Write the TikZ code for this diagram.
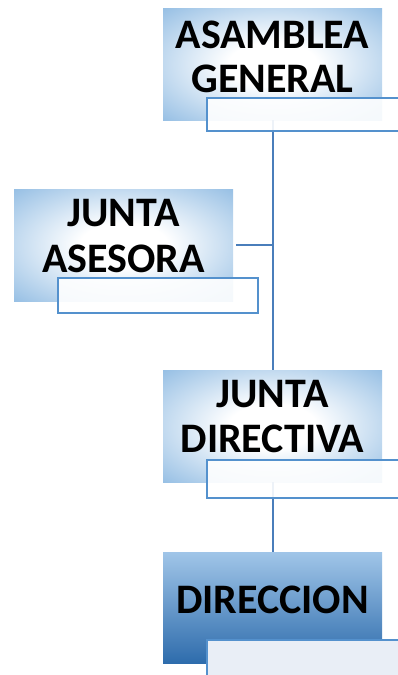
\documentclass[tikz,border=0pt]{standalone}
\usepackage{fontspec}
\setmainfont{Carlito}
\definecolor{boxblue}{RGB}{91,155,213}
\definecolor{linkblue}{RGB}{74,126,187}
\definecolor{edgeblue}{RGB}{84,145,205}
\definecolor{dirtop}{RGB}{160,197,232}
\definecolor{dirbot}{RGB}{46,108,172}
\definecolor{tabfill}{RGB}{233,238,246}
\pgfdeclareradialshading{boxrad}{\pgfpoint{0bp}{0bp}}{color(0bp)=(white); color(10bp)=(white); color(50bp)=(boxblue); color(100bp)=(boxblue)}
\tikzset{
  mainbox/.style={rectangle, draw=none, shading=boxrad, anchor=north west, minimum width=219pt, minimum height=112pt, inner sep=0pt},
  dirbox/.style={rectangle, draw=none, top color=dirtop, bottom color=dirbot, anchor=north west, minimum width=219pt, minimum height=111pt, inner sep=0pt},
  tab/.style={rectangle, draw=edgeblue, line width=2pt, fill=white, fill opacity=0.9, anchor=north west, inner sep=0pt},
  dirtab/.style={rectangle, draw=edgeblue, line width=2pt, fill=tabfill, anchor=north west, inner sep=0pt},
  lbl/.style={anchor=base, font=\fontsize{42}{44}\selectfont\bfseries, inner sep=0pt, text=black},
  link/.style={draw=linkblue, line width=2pt}
}
\begin{document}
\begin{tikzpicture}[x=1pt,y=-1pt]
\useasboundingbox (0,0) rectangle (398,675);
\clip (0,0) rectangle (398,675);
% main boxes
\node[mainbox] (ag) at (163,8) {};
\node[mainbox] (ja) at (14,189) {};
\node[mainbox] (jd) at (163,370) {};
\node[dirbox] (dir) at (163,552) {};
% connectors
\draw[link] (ag.south) -- (jd.north);
\draw[link, shorten <=3pt] (ja.east) -- (ja.east -| ag.south);
\draw[link] (jd.south) -- (dir.north);
% tabs
\node[tab, minimum width=192pt, minimum height=33pt] (agtab) at (206,97) {};
\node[tab, minimum width=200pt, minimum height=35pt] (jatab) at (57,277) {};
\node[tab, minimum width=192pt, minimum height=38pt] (jdtab) at (206,459) {};
\node[dirtab, minimum width=200pt, minimum height=60pt] (dirtab) at (206,639) {};
% labels
\node[lbl] (ag1) at (272.5,48) {ASAMBLEA};
\node[lbl] (ag2) at (272.5,92) {GENERAL};
\node[lbl] (ja1) at (123.5,226) {JUNTA};
\node[lbl] (ja2) at (123.5,272) {ASESORA};
\node[lbl] (jd1) at (272.5,407) {JUNTA};
\node[lbl] (jd2) at (272.5,452) {DIRECTIVA};
\node[lbl] (dir1) at (272.5,613) {DIRECCION};
\end{tikzpicture}
\end{document}
